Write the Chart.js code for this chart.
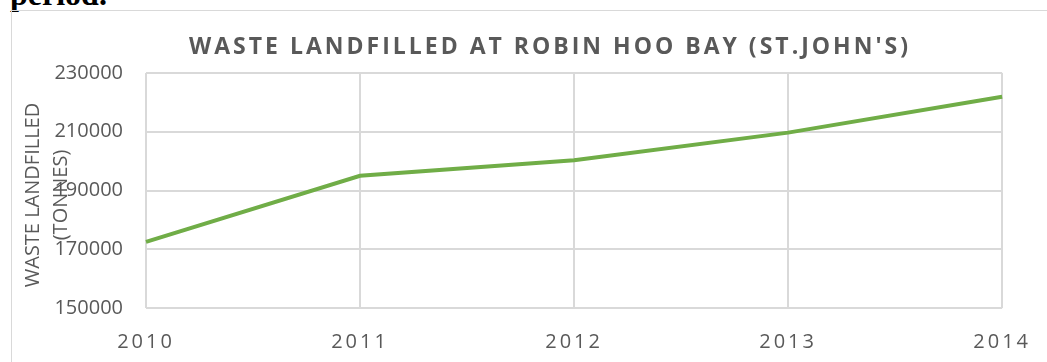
<!DOCTYPE html>
<html>
<head>
<meta charset="utf-8">
<script src="https://cdn.jsdelivr.net/npm/chart.js@4"></script>
<style>
  html, body { margin: 0; padding: 0; background: #fff; overflow: hidden; }
  #page { position: relative; width: 1047px; height: 362px; }
  #caption {
    position: absolute; left: 10px; top: -24px; line-height: 32px;
    font: bold 32px "Liberation Serif", serif; color: #000;
  }
  #frame {
    position: absolute; left: 11px; top: 10px; width: 1040px; height: 360px;
    border-left: 1px solid #d9d9d9; border-top: 1px solid #d9d9d9;
  }
  #chartBox { position: absolute; left: 0; top: 0; width: 1047px; height: 362px; }
</style>
</head>
<body>
<div id="page">
  <div id="caption">period.</div>
  <div id="frame"></div>
  <div id="chartBox"><canvas id="wasteChart"></canvas></div>
</div>
<script>
// Data
const years = ['2010', '2011', '2012', '2013', '2014'];
const tonnes = [172500, 195000, 200300, 209700, 221900];
const yTicks = [150000, 170000, 190000, 210000, 230000];

const chartTitle = "WASTE LANDFILLED AT ROBIN HOO BAY (ST.JOHN'S)";
const yTitleLines = ['WASTE LANDFILLED', '(TONNES)'];

const textColor = '#595959';
const gridColor = '#d9d9d9';
const lineColor = '#70ad47';

// Title + rotated axis title drawn by hand (Excel-like spacing/overlap)
const decorPlugin = {
  id: 'decor',
  beforeDraw(chart) {
    const xs = chart.scales.x;
    if (xs && !xs._spaced) {
      const orig = xs.drawLabels;
      xs.drawLabels = function (area) {
        this.ctx.save();
        this.ctx.letterSpacing = '3px';
        orig.call(this, area);
        this.ctx.restore();
      };
      xs._spaced = true;
    }
  },
  afterDraw(chart) {
    const ctx = chart.ctx;
    ctx.save();
    ctx.fillStyle = textColor;
    ctx.font = 'bold 23px "Open Sans"';
    ctx.letterSpacing = '3px';
    ctx.textAlign = 'center';
    ctx.textBaseline = 'middle';
    ctx.fillText(chartTitle, 550, 47);
    ctx.restore();

    ctx.save();
    ctx.fillStyle = textColor;
    ctx.font = '20px "Open Sans"';
    ctx.textAlign = 'center';
    ctx.textBaseline = 'middle';
    ctx.translate(33, 195);
    ctx.rotate(-Math.PI / 2);
    ctx.fillText(yTitleLines[0], 0, 0);
    ctx.fillText(yTitleLines[1], 0, 28);
    ctx.restore();
  }
};

new Chart(document.getElementById('wasteChart'), {
  type: 'line',
  data: {
    labels: years,
    datasets: [{
      label: 'Waste landfilled',
      data: tonnes,
      borderColor: lineColor,
      backgroundColor: lineColor,
      borderWidth: 4,
      pointRadius: 0,
      tension: 0,
      fill: false,
    }],
  },
  options: {
    responsive: true,
    maintainAspectRatio: false,
    animation: false,
    layout: {
      padding: { top: 73, right: 40, left: 0, bottom: 0 }
    },
    plugins: {
      legend: { display: false },
      tooltip: { enabled: false },
      title: { display: false },
    },
    scales: {
      x: {
        offset: false,
        grid: { color: gridColor, lineWidth: 2, drawTicks: false },
        border: { display: false },
        ticks: {
          color: textColor,
          padding: 22,
          maxRotation: 0,
          font: { family: 'Open Sans', size: 20 },
        },
        afterFit(scale) { scale.height = 54; },
      },
      y: {
        min: 150000,
        max: 230000,
        afterBuildTicks(scale) { scale.ticks = yTicks.map(v => ({ value: v })); },
        grid: { color: gridColor, lineWidth: 2, drawTicks: false },
        border: { display: false },
        ticks: {
          color: textColor,
          padding: 23,
          font: { family: 'Open Sans', size: 20 },
          callback: (v) => String(v),
        },
        afterFit(scale) { scale.width = 146; },
      },
    },
  },
  plugins: [decorPlugin],
});
</script>
</body>
</html>
